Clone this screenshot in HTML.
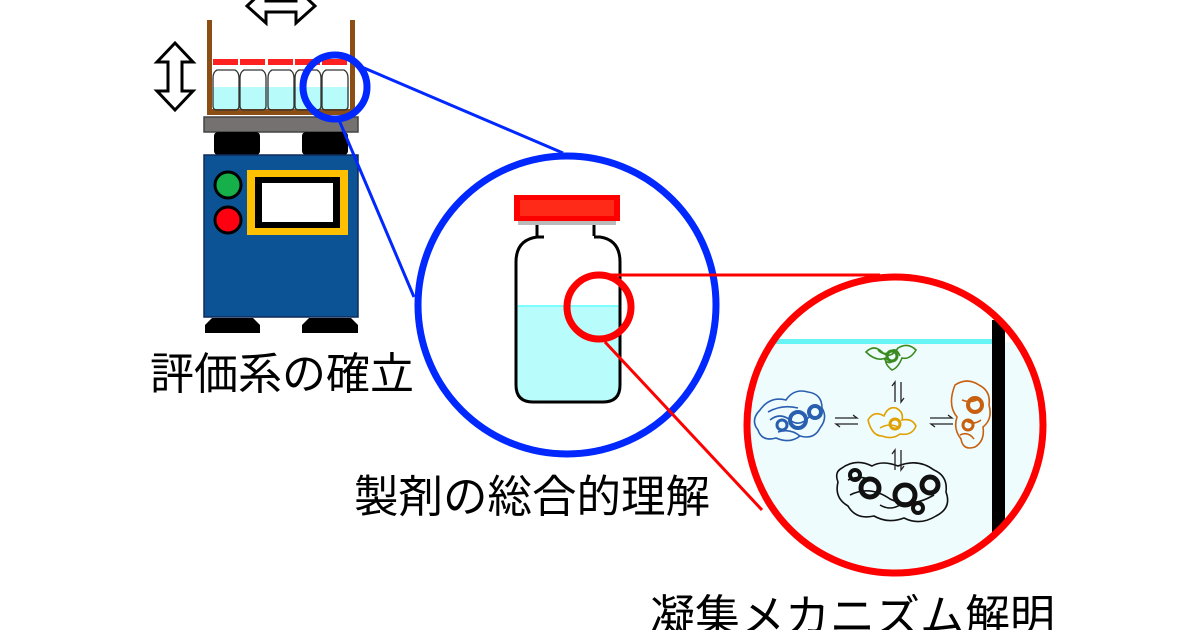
<!DOCTYPE html>
<html><head><meta charset="utf-8"><style>
html,body{margin:0;padding:0;background:#fff;}
svg{display:block}
text{font-family:"Liberation Sans","Noto Sans CJK JP",sans-serif;fill:#000}
</style></head><body>
<svg width="1200" height="630" viewBox="0 0 1200 630" xmlns="http://www.w3.org/2000/svg">
<defs>
<clipPath id="cr"><circle cx="895" cy="425" r="146"/></clipPath>
</defs>
<polygon points="175,43 193,62 182,62 182,91 193,91 175,110 157,91 168,91 168,62 157,62" fill="#fff" stroke="#000" stroke-width="3"/>
<polygon points="247,6 266,-12 266,1 296,1 296,-12 315,6 296,23 296,12 266,12 266,23" fill="#fff" stroke="#000" stroke-width="3"/>
<rect x="207" y="20" width="5" height="95" fill="#8B4E14"/>
<rect x="350" y="20" width="5" height="95" fill="#8B4E14"/>
<rect x="207" y="109" width="148" height="6" fill="#8B4E14"/>
<rect x="213" y="87" width="136" height="22" fill="#b8fbfb"/>
<g fill="none" stroke="#333" stroke-width="1.3">
<path d="M217,70 H235 Q239,72 239,78 V106 Q239,110 235,110 H217 Q213,110 213,106 V78 Q213,72 217,70Z"/>
<path d="M244,70 H262 Q266,72 266,78 V106 Q266,110 262,110 H244 Q240,110 240,106 V78 Q240,72 244,70Z"/>
<path d="M272,70 H290 Q294,72 294,78 V106 Q294,110 290,110 H272 Q268,110 268,106 V78 Q268,72 272,70Z"/>
<path d="M299,70 H317 Q321,72 321,78 V106 Q321,110 317,110 H299 Q295,110 295,106 V78 Q295,72 299,70Z"/>
<path d="M326,70 H344 Q348,72 348,78 V106 Q348,110 344,110 H326 Q322,110 322,106 V78 Q322,72 326,70Z"/>
</g>
<g fill="#ff2020">
<rect x="213" y="59" width="25" height="6"/><rect x="240" y="59" width="25" height="6"/><rect x="268" y="59" width="25" height="6"/><rect x="295" y="59" width="25" height="6"/><rect x="322" y="59" width="25" height="6"/>
</g>
<rect x="204" y="117" width="154" height="15" fill="#767171" stroke="#444" stroke-width="1.5"/>
<rect x="214" y="132" width="46" height="23" rx="4" fill="#000"/>
<rect x="302" y="132" width="46" height="23" rx="4" fill="#000"/>
<rect x="204" y="155" width="154" height="162" fill="#0b5394" stroke="#102a5a" stroke-width="1.5"/>
<circle cx="228" cy="185" r="13" fill="#16b04a" stroke="#000" stroke-width="3"/>
<circle cx="228" cy="220" r="13" fill="#ff0010" stroke="#000" stroke-width="3"/>
<rect x="247" y="170" width="101" height="65" fill="#ffc000"/>
<rect x="255" y="177" width="85" height="51" fill="#000"/>
<rect x="262" y="183" width="71" height="39" fill="#fff"/>
<path d="M205,333 L260,333 L260,325 L253,318 L212,318 L205,325Z" fill="#000"/>
<path d="M302,333 L358,333 L358,325 L351,318 L309,318 L302,325Z" fill="#000"/>
<line x1="357" y1="65" x2="563" y2="153" stroke="#0028ff" stroke-width="3"/>
<line x1="339" y1="120" x2="414" y2="297" stroke="#0028ff" stroke-width="3"/>
<circle cx="335" cy="87" r="32" fill="none" stroke="#0028ff" stroke-width="7"/>
<circle cx="567" cy="305" r="149" fill="#fff" stroke="#0028ff" stroke-width="7"/>
<rect x="514" y="195" width="106" height="26" fill="#ff0000"/>
<rect x="520" y="200" width="94" height="16" fill="#ff2a18"/>
<rect x="518" y="221" width="98" height="4" fill="#bbb"/>
<path d="M537,225 V236 M594,225 V236" stroke="#000" stroke-width="3"/>
<path d="M516,305 V385 Q516,402 533,402 H603 Q620,402 620,385 V305Z" fill="#b8fcfc"/>
<path d="M544,237 H537 Q516,240 516,262 V385 Q516,402 533,402 H603 Q620,402 620,385 V262 Q620,240 600,237 H594" fill="none" stroke="#000" stroke-width="3"/>
<line x1="518" y1="306" x2="618" y2="306" stroke="#6ff" stroke-width="1.5"/>
<line x1="610" y1="275" x2="880" y2="275" stroke="#ff0000" stroke-width="3"/>
<line x1="605" y1="342" x2="762" y2="510" stroke="#ff0000" stroke-width="3"/>
<circle cx="599" cy="307" r="32" fill="none" stroke="#ff0000" stroke-width="7"/>
<circle cx="895" cy="425" r="148" fill="#fff"/>
<g clip-path="url(#cr)">
<rect x="740" y="342" width="310" height="240" fill="#effcfd"/>
<rect x="740" y="339" width="252" height="5" fill="#66f4f4"/>
<rect x="992" y="320" width="13" height="215" fill="#000"/>
</g>
<g fill="none" stroke-width="1.6">
<g stroke="#3a8a20"><path d="M866,352 q8,-8 16,0 q8,8 16,-4 q10,-6 18,2 q-6,10 -14,8 q-4,10 -10,12 q-8,-6 -6,-12 q-10,4 -20,-6z"/><path d="M878,350 q6,6 12,2 q6,-6 10,4 M884,358 q4,8 10,2"/><circle cx="892" cy="356" r="5" stroke-width="3"/></g>
<g stroke="#e0a000"><path d="M868,420 q6,-10 16,-4 q4,-10 12,-8 q8,4 6,12 q10,-2 14,6 q-4,10 -16,8 q-8,6 -18,2 q-10,0 -14,-16z"/><path d="M880,428 q10,-6 20,0"/><circle cx="895" cy="424" r="5" stroke-width="3"/></g>
<g stroke="#2a5fb0"><path d="M760,410 q10,-14 26,-10 q8,-12 22,-8 q14,2 14,16 q6,10 -2,20 q-6,12 -20,8 q-10,8 -24,2 q-14,4 -18,-8 q-8,-10 2,-20z"/><path d="M770,420 q10,-8 20,0 q10,8 20,-4 M778,432 q12,-4 22,4 M768,412 q14,-8 30,-4"/><circle cx="798" cy="420" r="8" stroke-width="4"/><circle cx="815" cy="412" r="6" stroke-width="4"/><circle cx="782" cy="425" r="5" stroke-width="3"/></g>
<g stroke="#c86010"><path d="M955,385 q12,-8 24,0 q12,6 10,20 q4,14 -6,22 q2,14 -8,20 q-12,4 -14,-8 q-8,-10 -4,-22 q-10,-12 -2,-32z"/><path d="M962,400 q10,4 18,-2 M965,420 q8,6 16,0 M960,435 q8,-4 14,4"/><circle cx="975" cy="405" r="7" stroke-width="4"/><circle cx="968" cy="425" r="5" stroke-width="3"/></g>
<g stroke="#111"><path d="M842,468 q14,-10 30,-2 q10,-6 26,0 q20,-8 36,4 q14,6 12,22 q6,16 -10,24 q-16,10 -32,2 q-16,6 -30,-2 q-18,4 -26,-10 q-14,-8 -10,-24 q-4,-10 4,-14z"/><circle cx="870" cy="488" r="9" stroke-width="5"/><circle cx="905" cy="495" r="10" stroke-width="5"/><circle cx="930" cy="485" r="8" stroke-width="5"/><circle cx="855" cy="475" r="5" stroke-width="4"/><circle cx="918" cy="508" r="5" stroke-width="4"/><path d="M850,495 q20,-10 40,4 q20,10 44,-4 M848,480 q14,-6 26,2 M880,505 q10,6 20,0"/></g>
</g>
<g stroke="#222" stroke-width="1.3" fill="none">
<path d="M835,418 h22 l-4,-3 M858,424 h-22 l4,3"/>
<path d="M930,418 h22 l-4,-3 M953,424 h-22 l4,3"/>
<path d="M895,402 v-20 l-3,4 M901,382 v20 l3,-4"/>
<path d="M895,470 v-20 l-3,4 M901,450 v20 l3,-4"/>
</g>
<circle cx="895" cy="425" r="148" fill="none" stroke="#ff0000" stroke-width="7"/>
<text x="150" y="389" font-size="44">評価系の確立</text>
<text x="354" y="512" font-size="44.5">製剤の総合的理解</text>
<text x="650" y="632" font-size="45">凝集メカニズム解明</text>
</svg>
</body></html>
